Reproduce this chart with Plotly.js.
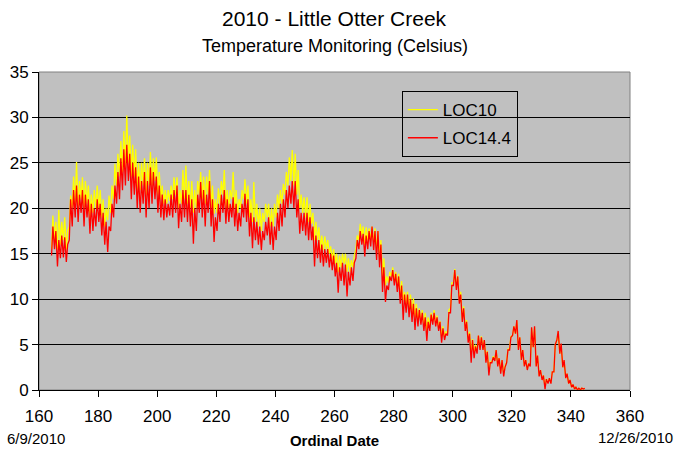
<!DOCTYPE html>
<html>
<head>
<meta charset="utf-8">
<script src="https://cdn.plot.ly/plotly-3.0.1.min.js"></script>
<style>html,body{margin:0;padding:0;background:#fff;}#chart{width:676px;height:449px;}</style>
</head>
<body>
<div id="chart"></div>
<script>
// Ordinal days (one daily low and one daily high per day)
const days = [164,165,166,167,168,169,170,171,172,173,174,175,176,177,178,179,180,181,182,183,
184,185,186,187,188,189,190,191,192,193,194,195,196,197,198,199,200,201,202,203,
204,205,206,207,208,209,210,211,212,213,214,215,216,217,218,219,220,221,222,223,
224,225,226,227,228,229,230,231,232,233,234,235,236,237,238,239,240,241,242,243,
244,245,246,247,248,249,250,251,252,253,254,255,256,257,258,259,260,261,262,263,
264,265,266,267,268,269,270,271,272,273,274,275,276,277,278,279,280,281,282,283,
284,285,286,287,288,289,290,291,292,293,294,295,296,297,298,299,300,301,302,303,
304,305,306,307,308,309,310,311,312,313,314,315,316,317,318,319,320,321,322,323,
324,325,326,327,328,329,330,331,332,333,334,335,336,337,338,339,340,341,342,343,344];

// LOC10 (yellow) daily low / high, deg C
const loc10Low = [15.5,16.5,15.5,16.0,16.5,15.5,18.0,20.0,20.5,20.0,
21.0,20.0,20.5,19.0,19.5,20.0,20.0,19.0,18.0,18.7,
19.5,21.0,22.5,23.5,24.0,24.5,25.0,23.5,23.5,22.0,
22.0,22.5,21.5,22.5,22.5,23.0,21.5,21.0,20.5,20.5,
20.8,21.0,21.5,20.0,20.5,21.0,20.5,20.0,19.5,20.0,
21.5,21.0,20.5,21.5,20.0,19.4,19.5,20.5,21.5,20.0,
20.0,21.0,20.0,19.5,20.0,21.0,20.5,19.0,18.5,18.5,
18.0,17.5,18.5,19.0,18.0,18.0,19.0,20.0,20.5,21.5,
22.5,23.0,22.5,21.5,20.0,19.5,19.0,18.5,18.3,16.5,
16.5,15.5,15.4,15.5,15.0,14.3,13.9,13.0,13.5,13.9,
13.0,13.0,13.5,15.5,16.5,17.0,16.0,16.5,16.5,16.2,
15.5,14.5,12.5,11.5,11.8,12.5,12.0,11.5,10.5,9.9,
9.5,9.0,8.5,8.0,7.5,7.5,7.0,6.5,7.0,7.5,
7.2,6.8,5.8,5.8,6.3,9.0,11.8,11.3,9.8,7.8,
6.8,5.5,4.0,4.0,4.3,4.6,4.5,3.2,2.0,3.1,
3.3,2.7,2.0,1.7,3.1,4.6,6.0,6.2,4.5,3.4,
2.7,2.3,2.7,4.7,2.7,1.6,1.2,0.3,0.8,0.8,
2.0,5.4,4.0,2.5,1.3,0.7,0.3,0.1,0.0,0.0,0.1];
const loc10High = [19.2,18.5,19.8,18.5,19.0,17.5,21.4,23.5,25.1,23.0,
23.4,23.0,22.5,21.5,22.0,22.5,22.0,21.0,20.0,21.4,
22.5,24.9,26.0,27.4,28.5,30.2,28.0,27.0,26.5,25.0,
25.0,25.5,25.0,26.2,25.5,25.6,24.0,22.5,22.0,22.0,
22.5,23.4,23.4,22.0,24.2,24.7,23.0,23.0,22.0,23.0,
24.0,23.5,23.5,24.2,22.5,21.0,22.2,23.0,24.2,22.0,
22.0,24.0,22.0,21.0,22.0,23.2,22.5,21.0,22.9,20.5,
20.0,19.5,20.5,20.5,20.0,20.5,21.5,22.0,22.7,24.0,
25.6,26.4,26.0,24.2,21.5,21.2,21.2,20.5,19.5,18.5,
17.9,17.0,16.9,16.5,15.8,15.5,15.0,14.8,15.0,15.0,
14.5,14.3,14.8,17.0,18.3,18.0,17.9,17.8,18.0,17.8,
17.5,16.5,14.5,12.5,13.0,13.5,13.0,12.8,12.0,10.8,
10.8,10.5,10.1,9.5,9.0,8.8,8.5,8.0,8.5,8.8,
8.2,7.6,7.0,6.4,8.8,11.8,13.3,12.6,10.8,9.2,
7.7,6.4,5.6,5.0,6.0,5.9,5.5,4.3,3.1,3.7,
4.4,3.5,3.3,2.6,4.5,5.9,7.0,7.6,5.8,4.4,
3.3,2.9,6.8,6.9,3.8,2.2,1.6,1.2,1.3,2.0,
5.0,6.4,5.0,3.2,1.8,1.1,0.6,0.3,0.2,0.2,0.2];

// LOC14.4 (red) daily low / high, deg C
const loc14Low = [14.8,15.5,13.6,14.5,14.6,14.1,16.5,18.0,19.0,18.5,
19.5,18.0,19.0,17.2,17.5,18.0,18.5,17.0,16.0,15.2,
17.5,19.0,20.5,21.0,22.0,22.5,23.0,21.0,21.5,20.0,
19.5,20.5,19.0,20.0,20.5,21.0,19.5,19.0,18.7,19.0,
19.2,19.0,19.5,17.8,18.5,19.0,18.5,18.0,16.1,17.5,
19.5,19.0,18.0,19.5,18.0,16.3,17.5,18.5,19.5,18.3,
18.5,19.0,18.0,17.5,18.0,19.0,18.5,16.9,15.6,16.5,
16.0,15.4,16.5,17.0,16.0,15.4,16.5,17.5,18.0,19.0,
20.0,20.5,20.0,19.0,17.2,17.5,17.0,16.5,16.5,13.6,
14.5,14.0,13.6,14.0,13.5,13.2,12.5,10.7,12.0,11.5,
10.3,11.5,12.0,14.5,15.5,16.0,14.7,15.5,15.8,15.4,
14.3,13.5,10.8,9.7,11.0,12.0,11.5,10.8,9.5,7.7,
8.5,8.0,7.5,6.6,7.0,7.2,6.5,5.4,6.5,7.2,
7.0,6.5,5.2,5.5,6.0,8.5,11.5,11.0,9.5,7.5,
6.5,5.2,3.0,3.5,4.0,4.4,4.4,3.0,1.6,3.0,
3.2,2.6,1.8,1.5,3.0,4.4,6.0,6.2,4.4,3.3,
2.6,2.2,2.6,4.7,2.6,1.5,1.1,0.1,0.7,0.7,
2.0,5.5,4.0,2.5,1.3,0.7,0.3,0.1,0.0,0.0,0.1];
const loc14High = [18.0,17.5,16.5,17.0,16.8,16.0,21.0,22.0,22.5,21.5,
22.0,21.5,21.0,20.5,20.0,21.0,20.5,19.5,18.5,18.0,
20.5,22.5,24.0,25.5,26.5,27.0,26.0,25.0,24.5,23.5,
23.0,24.0,23.0,24.5,24.0,23.5,22.5,21.5,21.0,20.5,
21.5,22.0,22.5,20.5,22.0,22.0,21.5,21.0,20.0,21.5,
22.9,22.0,21.5,23.0,21.0,19.0,20.5,21.5,22.0,21.0,
20.5,21.2,20.5,19.5,20.5,21.6,21.0,19.5,19.0,18.5,
18.0,17.5,18.5,19.0,18.5,18.0,19.5,20.5,21.0,22.0,
22.5,23.0,23.0,21.0,19.5,19.5,19.5,19.0,18.0,17.0,
16.5,16.0,15.5,15.5,15.0,14.8,14.0,13.5,14.0,13.8,
13.0,13.5,14.0,16.5,17.5,17.2,17.0,17.5,18.0,17.5,
17.5,16.0,13.5,11.5,12.5,13.2,12.8,12.5,11.5,10.5,
10.5,10.0,9.5,9.0,8.8,8.5,8.0,7.5,8.3,8.5,
8.0,7.5,6.8,6.2,8.5,11.5,13.2,12.5,10.5,9.0,
7.5,6.2,5.5,4.8,6.0,5.8,5.5,4.2,3.0,3.6,
4.4,3.5,3.3,2.5,4.4,5.8,7.0,7.7,5.8,4.4,
3.3,2.9,6.9,7.0,3.8,2.2,1.6,1.2,1.3,2.0,
5.0,6.5,5.1,3.3,1.8,1.1,0.6,0.3,0.2,0.2,0.2];

const xTickVals = [160,180,200,220,240,260,280,300,320,340,360];
const yTickVals = [0,5,10,15,20,25,30,35];
const startDateLabel = "6/9/2010";
const endDateLabel = "12/26/2010";

// interleave morning low and afternoon high for each day
function series(lows, highs) {
  const x = [], y = [];
  for (let i = 0; i < days.length; i++) {
    x.push(days[i] + 0.25); y.push(lows[i]);
    x.push(days[i] + 0.7);  y.push(highs[i]);
  }
  return {x, y};
}
const s10 = series(loc10Low, loc10High);
const s14 = series(loc14Low, loc14High);

const FONT = "Liberation Sans, Arial, sans-serif";

const traces = [
  {x: s10.x, y: s10.y, type: 'scatter', mode: 'lines', name: 'LOC10',
   legendgroup: 'a', line: {color: '#FFFF00', width: 1.3}},
  {x: s14.x, y: s14.y, type: 'scatter', mode: 'lines', name: 'LOC14.4',
   legendgroup: 'b', line: {color: '#FF0000', width: 1.3}}
];

const layout = {
  width: 676, height: 449,
  margin: {l: 39, r: 46, t: 72, b: 59},
  paper_bgcolor: '#FFFFFF',
  plot_bgcolor: '#C0C0C0',
  font: {family: FONT, color: '#000', size: 17},
  showlegend: true,
  legend: {x: 0.614, y: 0.94, xanchor: 'left', yanchor: 'top',
           bgcolor: 'rgba(0,0,0,0)', bordercolor: '#000', borderwidth: 1,
           font: {family: FONT, size: 17, color: '#000'}, tracegroupgap: 3,
           traceorder: 'grouped'},
  xaxis: {range: [160, 360], tickvals: xTickVals, ticktext: xTickVals.map(String),
          showgrid: false, zeroline: false, showline: true, linecolor: '#000', linewidth: 1,
          ticks: 'outside', ticklen: 6, tickcolor: '#000', tickfont: {size: 17},
          ticklabelstandoff: 5,
          title: {text: '<b>Ordinal Date</b>', font: {size: 15}, standoff: 10}},
  yaxis: {range: [0, 35], tickvals: yTickVals, ticktext: yTickVals.map(String),
          showgrid: true, gridcolor: '#000', gridwidth: 1, zeroline: false,
          showline: true, linecolor: '#000', linewidth: 1,
          ticks: 'outside', ticklen: 6, tickcolor: '#000', tickfont: {size: 17}},
  shapes: [{type: 'rect', xref: 'paper', yref: 'paper', x0: 0, x1: 1, y0: 0, y1: 1,
            line: {color: '#808080', width: 1}, layer: 'below'}],
  annotations: [
    {text: '2010 - Little Otter Creek', xref: 'paper', yref: 'paper', x: 0.5, y: 1,
     yshift: 54, showarrow: false, font: {size: 21}, xanchor: 'center', yanchor: 'middle'},
    {text: 'Temperature Monitoring (Celsius)', xref: 'paper', yref: 'paper', x: 0.5, y: 1,
     yshift: 26, showarrow: false, font: {size: 18}, xanchor: 'center', yanchor: 'middle'},
    {text: startDateLabel, xref: 'paper', yref: 'paper', x: 0, y: 0, xshift: -34, yshift: -48,
     showarrow: false, font: {size: 15}, xanchor: 'left', yanchor: 'middle'},
    {text: endDateLabel, xref: 'paper', yref: 'paper', x: 1, y: 0, xshift: 45, yshift: -47,
     showarrow: false, font: {size: 15}, xanchor: 'right', yanchor: 'middle'}
  ]
};

Plotly.newPlot('chart', traces, layout, {displayModeBar: false, staticPlot: true});
</script>
</body>
</html>
